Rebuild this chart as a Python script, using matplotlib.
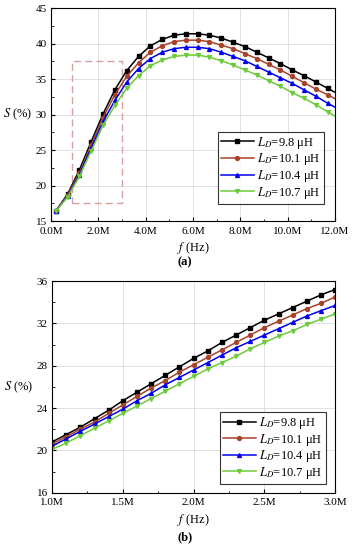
import matplotlib.pyplot as plt
import numpy as np
from matplotlib.ticker import MultipleLocator, FuncFormatter
import matplotlib.patches as patches

plt.rcParams['font.family'] = ['Liberation Serif', 'DejaVu Serif']
plt.rcParams['mathtext.fontset'] = 'stix'

# (a) full range, frequency in MHz
fa = [0.2, 0.7, 1.2, 1.7, 2.2, 2.7, 3.2, 3.7, 4.2, 4.7, 5.2, 5.7, 6.2,
      6.7, 7.2, 7.7, 8.2, 8.7, 9.2, 9.7, 10.2, 10.7, 11.2, 11.7, 12.2]
sa_98 = [16.4, 18.8, 22.2, 26.2, 30.1, 33.5, 36.2, 38.2, 39.7, 40.6, 41.2, 41.4, 41.4,
         41.2, 40.8, 40.2, 39.6, 38.8, 38.0, 37.2, 36.3, 35.5, 34.6, 33.7, 32.8]
sa_101 = [16.4, 18.7, 21.8, 25.7, 29.6, 32.8, 35.4, 37.3, 38.8, 39.7, 40.3, 40.5, 40.5,
          40.3, 39.8, 39.3, 38.6, 37.9, 37.1, 36.3, 35.4, 34.5, 33.6, 32.8, 31.9]
sa_104 = [16.4, 18.5, 21.5, 25.3, 29.0, 32.0, 34.6, 36.5, 37.9, 38.8, 39.3, 39.5, 39.5,
          39.3, 38.8, 38.2, 37.6, 36.8, 36.0, 35.2, 34.4, 33.5, 32.6, 31.6, 30.7]
sa_107 = [16.4, 18.4, 21.3, 24.9, 28.5, 31.3, 33.7, 35.5, 36.9, 37.7, 38.2, 38.4, 38.4,
          38.1, 37.6, 37.0, 36.3, 35.6, 34.8, 34.0, 33.1, 32.3, 31.4, 30.4, 29.4]

# (b) zoomed range 1-3 MHz
fb = [1.0, 1.1, 1.2, 1.3, 1.4, 1.5, 1.6, 1.7, 1.8, 1.9, 2.0,
      2.1, 2.2, 2.3, 2.4, 2.5, 2.6, 2.7, 2.8, 2.9, 3.0]
sb_98 = [20.8, 21.5, 22.2, 23.0, 23.8, 24.7, 25.5, 26.3, 27.1, 27.9, 28.7,
         29.4, 30.2, 30.9, 31.6, 32.3, 32.9, 33.5, 34.1, 34.7, 35.2]
sb_101 = [20.6, 21.3, 22.0, 22.7, 23.5, 24.3, 25.1, 25.9, 26.6, 27.4, 28.1,
          28.8, 29.5, 30.2, 30.9, 31.6, 32.2, 32.8, 33.4, 33.9, 34.5]
sb_104 = [20.4, 21.1, 21.8, 22.5, 23.2, 23.9, 24.7, 25.4, 26.2, 26.9, 27.6,
          28.3, 29.0, 29.7, 30.3, 30.9, 31.5, 32.1, 32.7, 33.2, 33.7]
sb_107 = [20.1, 20.7, 21.4, 22.1, 22.8, 23.5, 24.2, 24.9, 25.6, 26.3, 27.0,
          27.7, 28.3, 28.9, 29.6, 30.2, 30.8, 31.3, 31.9, 32.4, 32.9]

labels = ['$L_D$=9.8 μH', '$L_D$=10.1 μH', '$L_D$=10.4 μH', '$L_D$=10.7 μH']
colors = ['black', '#A8432A', '#0000EE', '#6CCB3A']
markers = ['s', 'o', '^', 'v']

fig = plt.figure(figsize=(3.54, 5.5), dpi=100)
ax1 = fig.add_axes([0.144, 0.598, 0.802, 0.387])
ax2 = fig.add_axes([0.147, 0.104, 0.800, 0.385])

def style(ax):
    ax.tick_params(which='both', direction='in', labelsize=8)
    ax.tick_params(axis='x', pad=4)
    ax.tick_params(axis='y', pad=3)
    ax.tick_params(which='major', length=3)
    ax.tick_params(which='minor', length=1.8)
    ax.grid(True, which='major', color='#dcdcdc', lw=0.6)
    ax.set_axisbelow(True)
    for s in ax.spines.values():
        s.set_linewidth(0.8)
    ax.set_xlabel('$f$ (Hz)', fontsize=9, labelpad=3)
    ax.set_ylabel('$S$ (%)', fontsize=9, rotation=0, labelpad=2, va='center', ha='right')

def legend(ax, anchor):
    lg = ax.legend(loc='lower right', fontsize=9, frameon=True, fancybox=False,
                   edgecolor='black', handlelength=2.6, labelspacing=0.05,
                   borderpad=0.25, handletextpad=0.3, borderaxespad=0.2,
                   bbox_to_anchor=anchor)
    lg.get_frame().set_linewidth(0.8)

fmt = FuncFormatter(lambda v, p: '%.1fM' % v)

for ys, c, m, lb in zip([sa_98, sa_101, sa_104, sa_107], colors, markers, labels):
    ax1.plot(fa, ys, color=c, marker=m, ms=2.8, lw=1.1, label=lb)
ax1.set_xlim(0, 12)
ax1.set_ylim(15, 45)
ax1.xaxis.set_major_locator(MultipleLocator(2))
ax1.xaxis.set_minor_locator(MultipleLocator(1))
ax1.yaxis.set_major_locator(MultipleLocator(5))
ax1.yaxis.set_minor_locator(MultipleLocator(2.5))
ax1.xaxis.set_major_formatter(fmt)
style(ax1)
ax1.add_patch(patches.Rectangle((0.9, 17.6), 2.1, 20.0, fill=False, ec='#d4a0a0',
                                ls=(0, (5, 3)), lw=1.0, zorder=1))
legend(ax1, (0.97, 0.07))
fig.text(0.523, 0.523, '(a)', fontsize=9, ha='center', va='center', fontweight='bold')

for ys, c, m, lb in zip([sb_98, sb_101, sb_104, sb_107], colors, markers, labels):
    ax2.plot(fb, ys, color=c, marker=m, ms=2.8, lw=1.1, label=lb)
ax2.set_xlim(1.0, 3.0)
ax2.set_ylim(16, 36)
ax2.xaxis.set_major_locator(MultipleLocator(0.5))
ax2.xaxis.set_minor_locator(MultipleLocator(0.25))
ax2.yaxis.set_major_locator(MultipleLocator(4))
ax2.yaxis.set_minor_locator(MultipleLocator(2))
ax2.xaxis.set_major_formatter(fmt)
style(ax2)
legend(ax2, (0.975, 0.03))
fig.text(0.523, 0.023, '(b)', fontsize=9, ha='center', va='center', fontweight='bold')

fig.savefig('out.png', dpi=100)
